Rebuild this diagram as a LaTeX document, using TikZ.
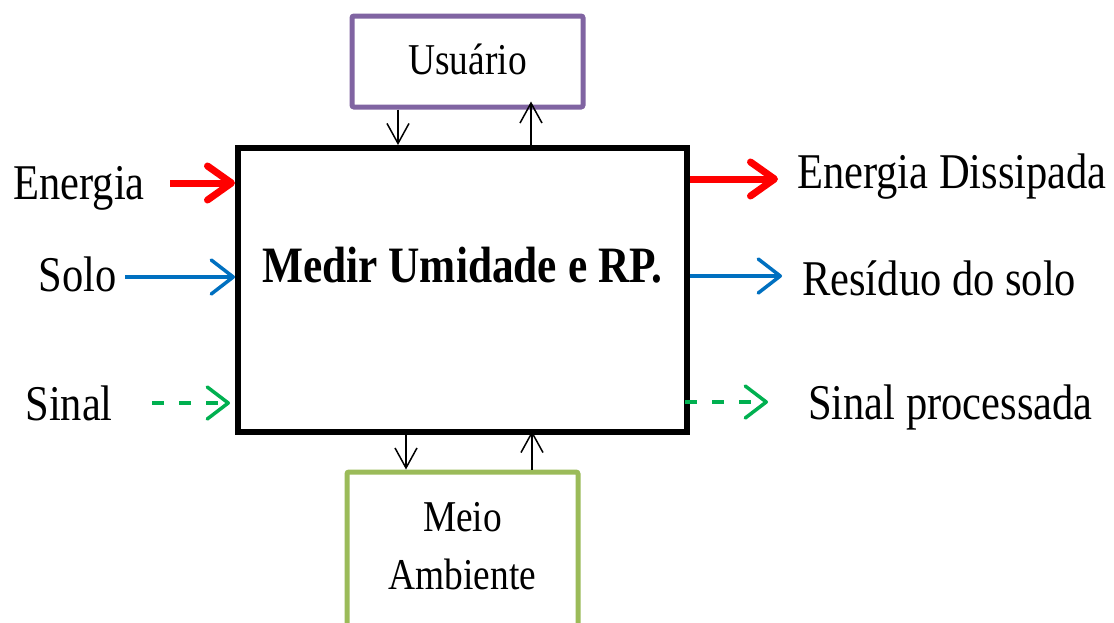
\documentclass[tikz,border=0pt]{standalone}
\usepackage{fontspec}
\setmainfont{Liberation Serif}
\usetikzlibrary{arrows.meta}

\definecolor{flowred}{HTML}{FF0000}
\definecolor{flowblue}{HTML}{0070C0}
\definecolor{flowgreen}{HTML}{00B050}
\definecolor{userpurple}{HTML}{8064A2}
\definecolor{envgreen}{HTML}{9BBB59}

% narrow the serif text horizontally
\newcommand\condensed[1]{\scalebox{0.85}[1]{#1}}

\begin{document}
\begin{tikzpicture}[x=1pt,y=-1pt,
  lbl/.style={inner sep=0pt, font=\fontsize{50}{56}\selectfont},
  boxlbl/.style={inner sep=0pt, font=\fontsize{44}{58}\selectfont},
  mainbox/.style={draw=black, line width=6pt, inner sep=0pt},
  userbox/.style={draw=userpurple, line width=5pt, rounded corners=2pt, inner sep=0pt},
  envbox/.style={draw=envgreen, line width=5pt, rounded corners=2pt, inner sep=0pt},
  redflow/.style={draw=flowred, line width=7pt, -{Straight Barb[length=24pt,width=34pt,round]}},
  blueflow/.style={draw=flowblue, line width=3.5pt, -{Straight Barb[length=22pt,width=34pt,round]}},
  greenflow/.style={draw=flowgreen, line width=3.5pt, dash pattern=on 12pt off 15pt,
                    -{Straight Barb[length=21pt,width=32pt,round]}},
  linkarrow/.style={draw=black, line width=1.5pt, -{Straight Barb[length=20pt,width=22pt]}}
]
\useasboundingbox (0,0) rectangle (1114,622);
\fill[white] (0,0) rectangle (1114,622);

% process block
\node[mainbox, minimum width=449pt, minimum height=284pt] (main) at (462.5,290) {};
\node[lbl, anchor=base, font=\fontsize{51}{56}\selectfont\bfseries] (title) at (462.5,282)
  {\condensed{Medir Umidade e RP.}};

% user and environment blocks
\node[userbox, minimum width=231pt, minimum height=91pt] (usr) at (467.5,61.5) {};
\node[boxlbl, anchor=base] (usrtxt) at (467.5,74) {\condensed{Usuário}};

\node[envbox, minimum width=231pt, minimum height=160pt] (env) at (462.5,552) {};
\node[boxlbl, align=center] (envtxt) at (462.5,546) {\condensed{Meio}\\\condensed{Ambiente}};

% inputs
\node[lbl, anchor=base east] (ein) at (145,199) {\condensed{Energia}};
\node[lbl, anchor=base east] (sin) at (117,291) {\condensed{Solo}};
\node[lbl, anchor=base east] (gin) at (113,420) {\condensed{Sinal}};

% outputs
\node[lbl, anchor=base west] (eout) at (797,188) {\condensed{Energia Dissipada}};
\node[lbl, anchor=base west] (sout) at (802,295) {\condensed{Resíduo do solo}};
\node[lbl, anchor=base west] (gout) at (808,419) {\condensed{Sinal processada}};

% connector end points
\coordinate (e1) at (170,183);
\coordinate (s1) at (125,277);
\coordinate (g1) at (152,403);
\coordinate (g2) at (230,403);
\coordinate (e2) at (778,179);
\coordinate (s2) at (782,276);
\coordinate (g3) at (685,402);
\coordinate (g4) at (768,402);
\coordinate (u1) at (398,0);
\coordinate (u2) at (531,0);
\coordinate (m1) at (406,0);
\coordinate (m2) at (532,0);

% material, energy and signal flows
\draw[redflow] (e1) -- (e1 -| main.west);
\draw[blueflow] (s1) -- (s1 -| main.west);
\draw[greenflow] (g1) -- (g2);
\draw[redflow] (e2 -| main.east) -- (e2);
\draw[blueflow] (s2 -| main.east) -- (s2);
\draw[greenflow] (g3) -- (g4);

% exchanges with user and environment
\draw[linkarrow] (usr.south -| u1) -- (main.north -| u1);
\draw[linkarrow] (main.north -| u2) -- ([yshift=8pt]usr.south -| u2);
\draw[linkarrow] (main.south -| m1) -- (env.north -| m1);
\draw[linkarrow] (env.north -| m2) -- ([yshift=4pt]main.south -| m2);
\end{tikzpicture}
\end{document}
